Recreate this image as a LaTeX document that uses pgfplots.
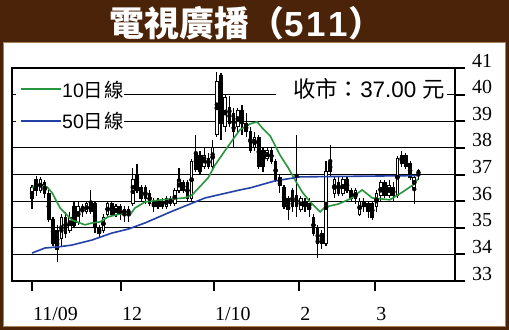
\documentclass[border=0pt]{standalone}
\usepackage{fontspec}
\setmainfont{Liberation Serif}
\newfontfamily\cjk{Noto Sans CJK TC}
\newfontfamily\lsans{Liberation Sans}
\usepackage{pgfplots}
\usepackage{pgfplotstable}
\pgfplotsset{compat=1.18}
\definecolor{framebrown}{RGB}{74,35,8}
\definecolor{tanline}{RGB}{170,130,90}
\definecolor{magreen}{RGB}{40,150,60}
\definecolor{mablue}{RGB}{35,65,165}

\pgfplotstableread{
i o h l c
0 36.1 36.6 35.7 36.5
1 36.8 36.95 36.2 36.4
2 36.4 36.9 36.3 36.8
3 36.7 36.8 36.1 36.3
4 36.3 36.4 35.2 35.3
5 35.3 35.4 34.3 34.4
6 34.9 35.1 33.7 34.2
7 34.6 35.5 34.3 35.4
8 35.4 35.6 34.6 34.8
9 34.9 35.6 34.8 35.4
10 35.8 36.0 35.0 35.1
11 35.2 36.0 35.1 35.8
12 35.8 35.9 35.4 35.6
13 35.6 36.0 35.5 35.9
14 35.9 36.4 35.5 35.6
15 35.9 36.0 34.8 35.0
16 35.0 35.1 34.6 34.8
17 34.9 35.5 34.8 35.4
18 35.5 36.0 35.4 35.9
19 35.9 36.0 35.4 35.5
20 35.5 35.9 35.4 35.8
21 35.8 35.9 35.3 35.5
22 35.5 35.8 35.2 35.7
23 35.7 35.8 35.2 35.5
24 35.9 37.25 35.8 36.8
25 37.0 37.4 36.3 36.4
26 36.5 36.6 36.0 36.1
27 36.5 36.6 35.9 36.1
28 36.3 36.4 35.8 35.9
29 36.0 36.1 35.6 35.8
30 35.8 36.1 35.7 36.0
31 36.0 36.1 35.7 35.8
32 35.8 36.2 35.7 36.1
33 36.1 36.2 35.8 35.9
34 35.9 36.5 35.8 36.4
35 36.4 37.25 36.3 36.8
36 36.7 36.8 36.3 36.4
37 36.7 36.8 36.0 36.1
38 36.1 37.6 36.0 37.5
39 37.8 38.5 37.1 37.2
40 37.7 37.9 37.0 37.1
41 37.3 38.0 37.2 37.7
42 37.6 37.8 37.2 37.3
43 37.3 38.3 37.2 38.0
44 38.5 40.85 38.4 40.5
45 40.7 40.8 38.3 38.9
46 38.8 40.0 38.6 39.9
47 39.5 39.95 38.8 38.9
48 39.3 39.5 38.0 38.6
49 38.8 39.5 38.6 39.4
50 39.4 39.6 38.5 38.9
51 38.9 39.3 38.4 38.6
52 38.6 38.8 37.8 37.9
53 38.0 38.6 37.9 38.4
54 38.4 38.5 37.2 37.3
55 37.9 38.0 37.1 37.3
56 37.6 38.0 37.5 37.9
57 37.9 38.0 37.4 37.5
58 37.5 37.6 36.7 36.8
59 36.9 37.0 36.3 36.6
60 36.5 36.6 35.7 35.8
61 36.1 36.2 35.3 35.7
62 36.4 36.5 35.6 35.8
63 36.2 38.5 35.4 35.8
64 35.7 36.2 35.6 36.1
65 36.0 36.1 35.6 35.8
66 35.7 36.1 35.4 36.0
67 35.4 35.5 34.7 34.8
68 35.0 35.1 33.85 34.4
69 34.8 34.9 34.2 34.4
70 34.4 37.5 34.3 37.1
71 37.45 38.1 36.9 37.1
72 36.3 36.9 36.1 36.8
73 36.7 36.9 36.2 36.3
74 36.3 36.9 36.2 36.8
75 36.8 36.9 36.3 36.4
76 36.4 36.5 36.0 36.1
77 36.1 36.5 35.9 36.4
78 35.5 36.1 35.45 36.0
79 36.0 36.1 35.6 35.8
80 35.9 36.0 35.35 35.6
81 35.9 36.0 35.3 35.4
82 35.8 36.4 35.6 36.3
83 36.2 36.8 36.0 36.7
84 36.7 36.8 36.1 36.2
85 36.2 36.8 36.1 36.6
86 36.5 36.7 36.0 36.2
87 36.2 37.7 36.1 37.6
88 37.7 37.9 37.3 37.4
89 37.7 37.8 37.2 37.3
90 37.4 37.5 36.8 36.9
91 36.5 37.0 35.9 36.9
92 37.15 37.2 36.8 37.0
}\candles

\begin{document}
\begin{tikzpicture}
\useasboundingbox (0,0) rectangle (509bp,-330bp);
\fill[framebrown] (0,0) rectangle (509bp,-330bp);
\fill[white] (3bp,-42bp) rectangle (506bp,-327bp);
\draw[tanline, line width=1bp] (3.5bp,-42.5bp) rectangle (505.5bp,-326.5bp);
\node[text=white, inner sep=0, anchor=center] at (246.5bp,-23bp)
  {{\cjk\bfseries\fontsize{35}{35}\selectfont 電視廣播（}{\lsans\bfseries\fontsize{35}{35}\selectfont 5\hspace{3bp}1\hspace{3bp}1}{\cjk\bfseries\fontsize{35}{35}\selectfont ）}};
\begin{axis}[
  at={(12bp,-281bp)}, anchor=south west,
  scale only axis, width=443bp, height=213bp,
  xmin=-4.76, xmax=100.7, ymin=33, ymax=41,
  axis line style={line width=1.8bp, black},
  ytick={33,34,...,41},
  ymajorgrids, grid style={black, line width=1.2bp},
  xtick={0,21.2,43.3,63.6,81.7},
  xticklabels={11/09,12,1/10,2,3},
  xtick pos=left, ytick pos=right, yticklabel pos=right,
  tick align=outside, major tick length=10bp,
  tick style={black, line width=2bp},
  tick label style={font=\fontsize{20}{20}\selectfont, inner sep=0pt},
  xticklabel style={anchor=base west, yshift=-29bp, xshift=1bp},
  yticklabel style={anchor=west, yshift=7.5bp, xshift=7bp},
  /pgf/number format/assume math mode=true,
]
% wicks
\addplot[only marks, mark=none, forget plot,
  error bars/.cd, y dir=both, y explicit, error mark=none,
  error bar style={line width=1.1bp, black}]
  table[x=i, y expr={(\thisrow{h}+\thisrow{l})/2}, y error expr={(\thisrow{h}-\thisrow{l})/2}] {\candles};
% bodies
\addplot[only marks, mark=none, forget plot,
  error bars/.cd, y dir=both, y explicit, error mark=none,
  error bar style={line width=3.7bp, black}]
  table[x=i, y expr={(\thisrow{o}+\thisrow{c})/2}, y error expr={abs(\thisrow{o}-\thisrow{c})/2+0.02}] {\candles};
% hollow interiors of rising candles
\addplot[only marks, mark=none, forget plot, restrict y to domain=30:45,
  error bars/.cd, y dir=both, y explicit, error mark=none,
  error bar style={line width=1.7bp, white}]
  table[x=i, y expr={\thisrow{c}>\thisrow{o} ? (\thisrow{o}+\thisrow{c})/2 : 100}, y error expr={abs(\thisrow{c}-\thisrow{o})/2-0.02}] {\candles};
% 10-day MA
\addplot[magreen, line width=1.6bp, mark=none] coordinates {
(0,36.50)(1.2,36.65)(3.6,36.53)(4.8,36.31)(6.7,35.74)(9.5,35.29)(12.6,35.11)(14.3,35.18)(16.2,35.22)(18.1,35.41)(21.0,35.52)(23.3,35.48)(24.5,35.74)(26.9,35.97)(31.0,36.05)(32.9,36.08)(36.4,36.12)(38.1,36.23)(41.9,36.87)(43.6,37.36)(46.4,38.00)(49.5,38.68)(51.9,38.90)(53.6,38.98)(54.8,38.75)(56.7,38.45)(59.0,37.74)(61.0,37.25)(62.6,36.80)(64.3,36.35)(66.2,35.97)(68.6,35.60)(69.8,35.78)(72.9,35.89)(75.7,36.08)(78.6,36.42)(81.0,36.12)(85.2,36.05)(88.3,36.35)(90.7,36.61)(91.9,36.83)};
% 50-day MA
\addplot[mablue, line width=1.6bp, mark=none] coordinates {
(0,34.05)(3.1,34.24)(6.2,34.28)(9.5,34.35)(14.3,34.54)(19.0,34.80)(22.9,34.95)(26.9,35.18)(32.9,35.59)(41.2,36.12)(49.5,36.42)(52.0,36.50)(57.8,36.76)(63.8,36.91)(91.9,36.96)};
\end{axis}
% legend and closing-price box
\fill[white] (16bp,-80bp) rectangle (124bp,-100bp);
\fill[white] (16bp,-112bp) rectangle (124bp,-132bp);
\fill[white] (276bp,-78bp) rectangle (447bp,-100bp);
\node[anchor=west, inner sep=0, font=\fontsize{19.5}{19.5}\selectfont] at (62bp,-90bp) {{\lsans 10}{\cjk 日\hspace{1.5bp}線}};
\node[anchor=west, inner sep=0, font=\fontsize{19.5}{19.5}\selectfont] at (62bp,-121bp) {{\lsans 50}{\cjk 日\hspace{1.5bp}線}};
\node[anchor=center, inner sep=0, font=\fontsize{22.5}{22.5}\selectfont] at (369bp,-89bp) {{\cjk 收市：}{\lsans 37.00 }{\cjk 元}};
\draw[draw=magreen, line width=1.8bp] (21bp,-89bp) -- (61bp,-89bp);
\draw[draw=mablue, line width=1.8bp] (21bp,-121bp) -- (61bp,-121bp);
\end{tikzpicture}
\end{document}
